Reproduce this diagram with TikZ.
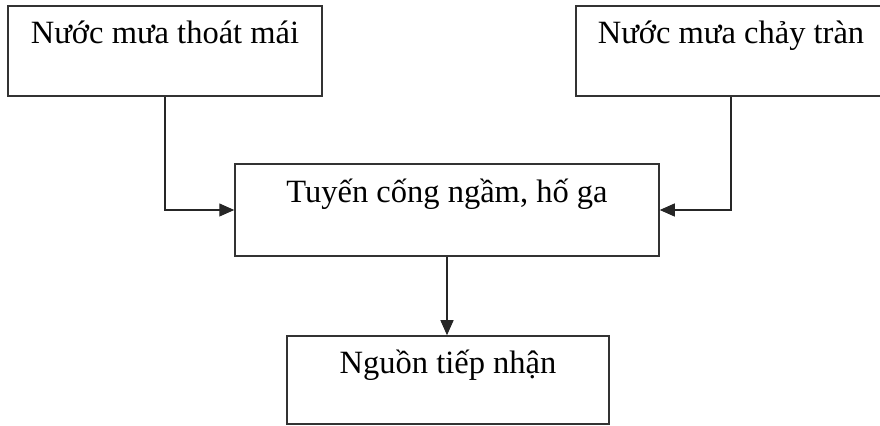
\documentclass[tikz,border=0pt]{standalone}
\usepackage{fontspec}
\setmainfont{Liberation Serif}
\usepackage{tikz}
\usetikzlibrary{arrows.meta}

\begin{document}
\begin{tikzpicture}[ ]
%Declaration of styles
	\tikzstyle{box} = [rectangle, draw=black!80, line width=0.03cm, inner sep=0pt, text centered, font=\fontsize{18.5pt}{21pt}\selectfont, text height=0.76cm, text depth=1.04cm] %style for the boxes
	\tikzstyle{arr} = [draw=black!85, line width=0.025cm, -{Triangle[length=0.3cm, width=0.26cm]}] %style for the connectors
	\useasboundingbox (0,0) rectangle (17.6,-8.52);
%Nodes, the elements of the graphic
	\node [box, minimum width=6.28cm] (roof) at (3.30,-1.02) {Nước mưa thoát mái};
	\node [box, minimum width=6.20cm] (runoff) at (14.62,-1.02) {Nước mưa chảy tràn};
	\node [box, minimum width=8.48cm, text height=0.78cm, text depth=1.06cm] (sewer) at (8.94,-4.20) {Tuyến cống ngầm, hố ga};
	\node [box, minimum width=6.44cm, text depth=1.00cm] (receiver) at (8.96,-7.60) {Nguồn tiếp nhận};
%Connectors
	\draw [arr] (roof.south) |- (sewer.west);
	\draw [arr] (runoff.south) |- (sewer.east);
	\draw [arr] (sewer.south) -- (sewer.south |- receiver.north);
\end{tikzpicture}
\end{document}
